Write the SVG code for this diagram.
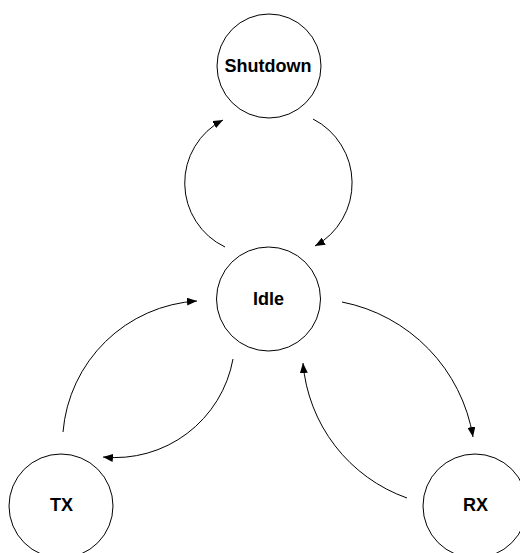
<svg xmlns="http://www.w3.org/2000/svg" width="520" height="553" viewBox="0 0 520 553">
  <style>
    .state circle { fill: #ffffff; stroke: #000000; stroke-width: 1; }
    .state text { font-family: "Liberation Sans", Arial, sans-serif; font-weight: bold; font-size: 18px; text-anchor: middle; fill: #000000; }
    .edge { fill: none; stroke: #000000; stroke-width: 1; marker-end: url(#arrow); }
  </style>
  <defs>
    <marker id="arrow" viewBox="0 0 10 8" refX="10" refY="4" markerWidth="10" markerHeight="8" markerUnits="userSpaceOnUse" orient="auto">
      <path d="M0,0 L10,4 L0,8 Z" fill="#000000"/>
    </marker>
  </defs>
  <rect width="520" height="553" fill="#ffffff"/>

  <g id="connectors">
    <!-- Idle -> Shutdown (left) -->
    <path class="edge" d="M225,247 A71,71 0 0 1 223,120"/>
    <!-- Shutdown -> Idle (right) -->
    <path class="edge" d="M313,119 A72,72 0 0 1 315,246"/>
    <!-- TX -> Idle -->
    <path class="edge" d="M63,432 A143,143 0 0 1 197,301"/>
    <!-- Idle -> TX -->
    <path class="edge" d="M233,359 A120,120 0 0 1 103,457"/>
    <!-- Idle -> RX -->
    <path class="edge" d="M342,302 A165,165 0 0 1 473,437"/>
    <!-- RX -> Idle -->
    <path class="edge" d="M407,498 A157,157 0 0 1 303,363"/>
  </g>

  <g id="shutdown" class="state">
    <circle cx="269" cy="66" r="52"/>
    <text x="268" y="72">Shutdown</text>
  </g>
  <g id="idle" class="state">
    <circle cx="268.5" cy="299" r="52"/>
    <text x="268.5" y="305">Idle</text>
  </g>
  <g id="tx" class="state">
    <circle cx="61" cy="506" r="52"/>
    <text x="61.5" y="511">TX</text>
  </g>
  <g id="rx" class="state">
    <circle cx="475" cy="506" r="52"/>
    <text x="475.5" y="511">RX</text>
  </g>
</svg>
